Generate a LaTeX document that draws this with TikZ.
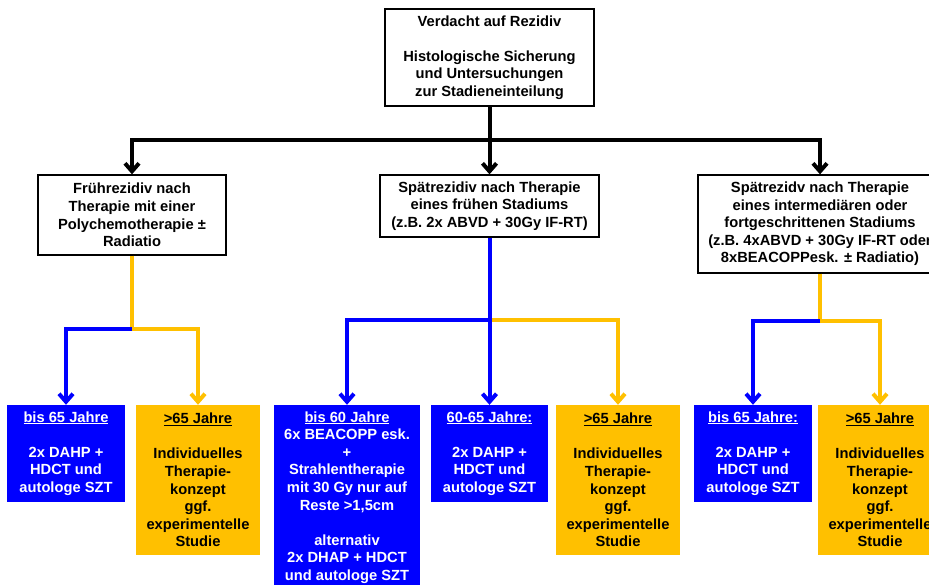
\documentclass[tikz,border=0pt]{standalone}
\usepackage{fontspec}
\setmainfont{Liberation Sans}
\usetikzlibrary{arrows.meta}
\definecolor{myblue}{RGB}{0,0,255}
\definecolor{myyellow}{RGB}{255,192,0}
\begin{document}
\begin{tikzpicture}[x=1pt,y=-1pt,
  txt/.style={font=\fontsize{14.7}{17.6}\selectfont\bfseries, align=center, inner sep=0pt},
  wbox/.style={txt, draw=black, line width=1.3pt, fill=white},
  bbox/.style={txt, fill=myblue, text=white},
  ybox/.style={txt, fill=myyellow, text=black},
  tip/.style={-{Straight Barb[length=8pt,width=14pt]}},
  blk/.style={draw=black, line width=4pt},
  bln/.style={draw=myblue, line width=4pt},
  yln/.style={draw=myyellow, line width=4pt}
]
\clip (0,0) rectangle (929,585);
\fill[white] (0,0) rectangle (929,585);

% top-level boxes
\node[wbox, minimum width=209pt, minimum height=97pt] (top) at (489.5,57.5)
  {Verdacht auf Rezidiv\\~\\Histologische Sicherung\\und Untersuchungen\\zur Stadieneinteilung};
\node[wbox, minimum width=188pt, minimum height=80pt] (L1) at (132,215)
  {Frührezidiv nach\\Therapie mit einer\\Polychemotherapie ±\\Radiatio};
\node[wbox, minimum width=219pt, minimum height=62pt] (M1) at (489.5,206)
  {Spätrezidiv nach Therapie\\eines frühen Stadiums\\(z.B. 2x ABVD + 30Gy IF-RT)};
\node[wbox, minimum width=244pt, minimum height=98pt] (R1) at (820,224)
  {Spätrezidv nach Therapie\\eines intermediären oder\\fortgeschrittenen Stadiums\\(z.B. 4xABVD + 30Gy IF-RT oder\\8xBEACOPPesk. ± Radiatio)};

% bottom boxes
\node[bbox, minimum width=118pt, minimum height=97pt] (B1) at (66,453.5)
  {\underline{bis 65 Jahre}\\~\\2x DAHP +\\HDCT und\\autologe SZT};
\node[ybox, minimum width=124pt, minimum height=150pt] (Y1) at (198,480)
  {\underline{>65 Jahre}\\~\\Individuelles\\Therapie-\\konzept\\ggf.\\experimentelle\\Studie};
\node[bbox, minimum width=146pt, minimum height=185pt] (B2) at (347,497.5)
  {\underline{bis 60 Jahre}\\6x BEACOPP esk.\\+\\Strahlentherapie\\mit 30 Gy nur auf\\Reste >1,5cm\\~\\alternativ\\2x DHAP + HDCT\\und autologe SZT};
\node[bbox, minimum width=117pt, minimum height=97pt] (B3) at (489.5,453.5)
  {\underline{60-65 Jahre:}\\~\\2x DAHP +\\HDCT und\\autologe SZT};
\node[ybox, minimum width=124pt, minimum height=150pt] (Y2) at (618,480)
  {\underline{>65 Jahre}\\~\\Individuelles\\Therapie-\\konzept\\ggf.\\experimentelle\\Studie};
\node[bbox, minimum width=118pt, minimum height=97pt] (B4) at (753,453.5)
  {\underline{bis 65 Jahre:}\\~\\2x DAHP +\\HDCT und\\autologe SZT};
\node[ybox, minimum width=124pt, minimum height=150pt] (Y3) at (880,480)
  {\underline{>65 Jahre}\\~\\Individuelles\\Therapie-\\konzept\\ggf.\\experimentelle\\Studie};

% junctions
\coordinate (bj) at (489.5,140);
\coordinate (lj) at (132,329);
\coordinate (mj) at (489.5,320);
\coordinate (rj) at (820,321);

% black connectors
\draw[blk] (top.south) -- (bj);
\draw[blk,tip] (bj) -| (L1.north);
\draw[blk,tip] (bj) -| (R1.north);
\draw[blk,tip] (bj) -- (M1.north);

% left branch
\draw[yln,tip] (L1.south) -- (lj) -| (Y1.north);
\draw[bln,tip] (lj) -| (B1.north);

% middle branch
\draw[yln,tip] (mj) -| (Y2.north);
\draw[bln,tip] (mj) -| (B2.north);
\draw[bln,tip] (M1.south) -- (B3.north);

% right branch
\draw[yln,tip] (R1.south) -- (rj) -| (Y3.north);
\draw[bln,tip] (rj) -| (B4.north);
\end{tikzpicture}
\end{document}
